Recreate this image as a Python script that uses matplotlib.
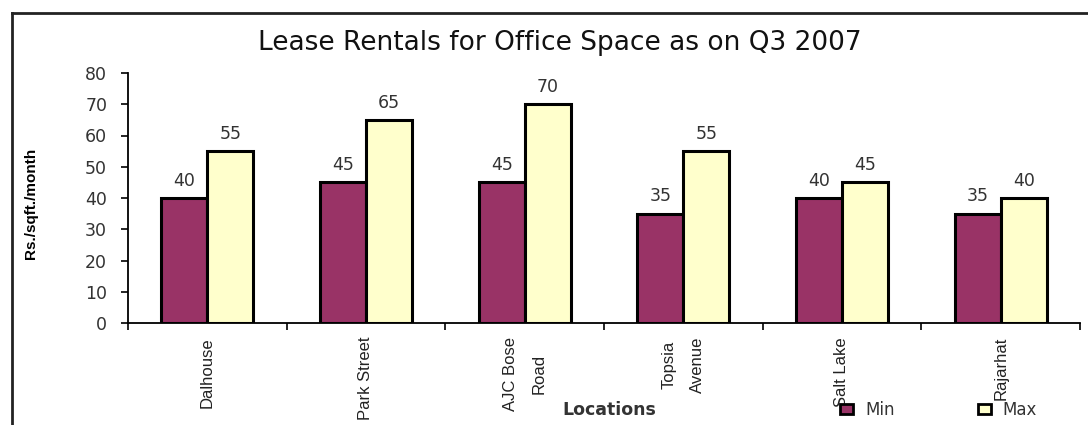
import numpy as np
import matplotlib
matplotlib.use("Agg")
import matplotlib.pyplot as plt
from matplotlib.patches import Patch
from matplotlib.lines import Line2D

locations = ["Dalhouse", "Park Street", "AJC Bose\nRoad", "Topsia\nAvenue", "Salt Lake", "Rajarhat"]
min_rent = [40, 45, 45, 35, 40, 35]
max_rent = [55, 65, 70, 55, 45, 40]

min_color = "#993366"
max_color = "#FFFFCC"
text_color = "#333333"

W, H = 1088, 425
fig = plt.figure(figsize=(W / 100, H / 100), dpi=100)
fig.patch.set_facecolor("white")

# axes placed in pixels: x 128..1080, y(0)=323, y(80)=73
ax = fig.add_axes([128 / W, (H - 323) / H, 952 / W, 250 / H])

x = np.arange(len(locations)) + 0.5
bw = 0.29
b1 = ax.bar(x - bw / 2, min_rent, bw, color=min_color, edgecolor="black", linewidth=2.2)
b2 = ax.bar(x + bw / 2, max_rent, bw, color=max_color, edgecolor="black", linewidth=2.2)

for bars, vals in ((b1, min_rent), (b2, max_rent)):
    for b, v in zip(bars, vals):
        ax.annotate(str(v), (b.get_x() + b.get_width() / 2, v), xytext=(0, 6),
                    textcoords="offset points", ha="center", va="bottom",
                    fontsize=12.5, color=text_color, family="DejaVu Sans")

ax.set_xlim(0, len(locations))
ax.set_ylim(0, 80)
ax.set_yticks(range(0, 81, 10))
ax.tick_params(axis="y", direction="out", length=5, width=1.2, pad=10,
               labelsize=12.5, labelcolor=text_color)

# category boundaries as major ticks, names on minor ticks
ax.set_xticks(range(len(locations) + 1))
ax.set_xticklabels([])
ax.tick_params(axis="x", which="major", direction="out", length=5, width=1.2)
ax.set_xticks(x, minor=True)
ax.set_xticklabels(locations, minor=True, rotation=90, va="top", ha="center",
                   family="Liberation Sans", fontsize=12, color="#222222",
                   linespacing=2.1)
ax.tick_params(axis="x", which="minor", length=0, pad=10)

for s in ("top", "right"):
    ax.spines[s].set_visible(False)
for s in ("left", "bottom"):
    ax.spines[s].set_linewidth(1.3)

ax.set_ylabel("Rs./sqft./month", family="Liberation Sans", fontweight="bold", fontsize=11)
ax.yaxis.set_label_coords(-0.095, 0.48)
ax.set_xlabel("Locations", family="DejaVu Sans", fontweight="bold", fontsize=12.5,
              color=text_color, va="center")
ax.xaxis.set_label_coords(0.506, -0.348)

fig.text(560 / W, 1 - 43 / H, "Lease Rentals for Office Space as on Q3 2007",
         ha="center", va="center", fontsize=19, family="DejaVu Sans", color="#111111")

handles = [Patch(facecolor=min_color, edgecolor="black", linewidth=2, label="Min"),
           Patch(facecolor=max_color, edgecolor="black", linewidth=2, label="Max")]
fig.legend(handles=handles, loc="center left", bbox_to_anchor=(840 / W, 1 - 410 / H),
           ncol=2, frameon=False, borderpad=0, borderaxespad=0, handlelength=0.8,
           handleheight=0.5, handletextpad=0.7, columnspacing=5.0,
           prop={"family": "DejaVu Sans", "size": 12}, labelcolor=text_color)

# outer chart frame (left and top edges visible)
fig.add_artist(Line2D([11.5 / W, 11.5 / W], [0, 1 - 13 / H], color="#222222", lw=2))
fig.add_artist(Line2D([11.5 / W, 1], [1 - 13 / H, 1 - 13 / H], color="#222222", lw=2))

fig.savefig("out.png", dpi=100)
